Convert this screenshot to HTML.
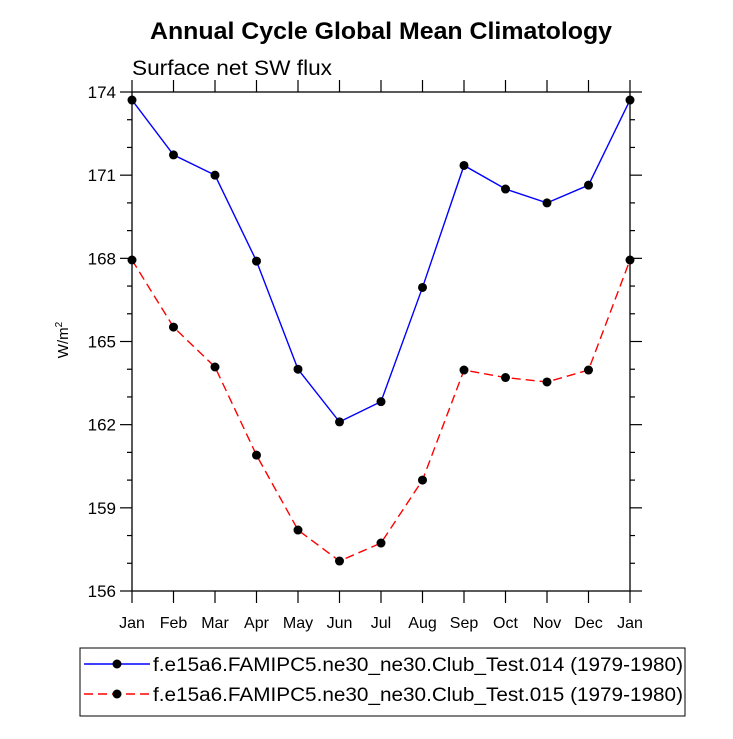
<!DOCTYPE html>
<html><head><meta charset="utf-8"><style>
body{margin:0;background:#fff;width:733px;height:734px;overflow:hidden}
text{font-family:"Liberation Sans",Arial,sans-serif}
</style></head><body>
<svg id="chart" width="733" height="734" xmlns="http://www.w3.org/2000/svg"></svg>
<script>
const months=["Jan","Feb","Mar","Apr","May","Jun","Jul","Aug","Sep","Oct","Nov","Dec","Jan"];
const test014=[173.71,171.73,171.0,167.9,164.0,162.1,162.83,166.95,171.35,170.5,170.0,170.64,173.71];
const test015=[167.94,165.52,164.08,160.9,158.2,157.08,157.73,160.0,163.97,163.7,163.54,163.97,167.94];
const yTicks=[156,159,162,165,168,171,174];
const L=132,R=630,T=92,B=591,ymin=156,ymax=174;
const xs=i=>L+(R-L)*i/(months.length-1);
const ys=v=>B-(B-T)*(v-ymin)/(ymax-ymin);
const svg=document.getElementById('chart');
const NS='http://www.w3.org/2000/svg';
function mk(tag,attrs,txt){const e=document.createElementNS(NS,tag);for(const k in attrs)e.setAttribute(k,attrs[k]);if(txt!==undefined)e.textContent=txt;svg.appendChild(e);return e;}
let e;
e=mk('text',{x:150,y:39,'font-size':24,'font-weight':'bold',textLength:462,lengthAdjust:'spacingAndGlyphs'},'Annual Cycle Global Mean Climatology');


e=mk('text',{x:132,y:75,'font-size':21,textLength:200,lengthAdjust:'spacingAndGlyphs'},'Surface net SW flux');


e=mk('rect',{x:L,y:T,width:R-L,height:B-T,fill:'none',stroke:'#000','stroke-width':1.3});


for(let v=ymin;v<=ymax;v+=1){
  const y=ys(v);const major=(v-ymin)%3===0;const len=major?12:5;
  e=mk('line',{x1:L-len,x2:L,y1:y,y2:y,stroke:'#000','stroke-width':1.2});
  
  
  e=mk('line',{x1:R,x2:R+len,y1:y,y2:y,stroke:'#000','stroke-width':1.2});
  
  
}
yTicks.forEach(v=>{
  e=mk('text',{x:L-16,y:ys(v)+6,'text-anchor':'end','font-size':17},String(v));
  
  
});
months.forEach((m,i)=>{
  const x=xs(i);
  e=mk('line',{x1:x,x2:x,y1:B,y2:B+12,stroke:'#000','stroke-width':1.2});
  
  
  e=mk('line',{x1:x,x2:x,y1:T-12,y2:T,stroke:'#000','stroke-width':1.2});
  
  
  e=mk('text',{x:x,y:628,'text-anchor':'middle','font-size':16},m);
  
  
});
e=mk('text',{x:0,y:0,'font-size':15,transform:'translate(68,340) rotate(-90)','text-anchor':'middle'},'');
e.innerHTML='W/m<tspan dy="-6" font-size="10">2</tspan>';


function series(vals,color,dash,name){
  e=mk('polyline',{points:vals.map((v,i)=>xs(i)+','+ys(v)).join(' '),fill:'none',stroke:color,'stroke-width':1.4,'stroke-dasharray':dash});
  
  
  vals.forEach((v,i)=>{
    e=mk('circle',{cx:xs(i),cy:ys(v),r:4.5,fill:'#000'});
    
    
  });
}
series(test014,'#0000ff','none','test014');
series(test015,'#ff0000','9,5','test015');
e=mk('rect',{x:80,y:648,width:605,height:68,fill:'none',stroke:'#000','stroke-width':1});


const legs=[['f.e15a6.FAMIPC5.ne30_ne30.Club_Test.014 (1979-1980)','#0000ff','none',664],['f.e15a6.FAMIPC5.ne30_ne30.Club_Test.015 (1979-1980)','#ff0000','9,5',694]];
legs.forEach(l=>{
  e=mk('line',{x1:84,x2:150,y1:l[3],y2:l[3],stroke:l[1],'stroke-width':1.4,'stroke-dasharray':l[2]});
  
  
  e=mk('circle',{cx:117,cy:l[3],r:4.5,fill:'#000'});
  
  
  e=mk('text',{x:153,y:l[3]+7,'font-size':19,textLength:530,lengthAdjust:'spacingAndGlyphs'},l[0]);
  
  
});
</script>
</body></html>
